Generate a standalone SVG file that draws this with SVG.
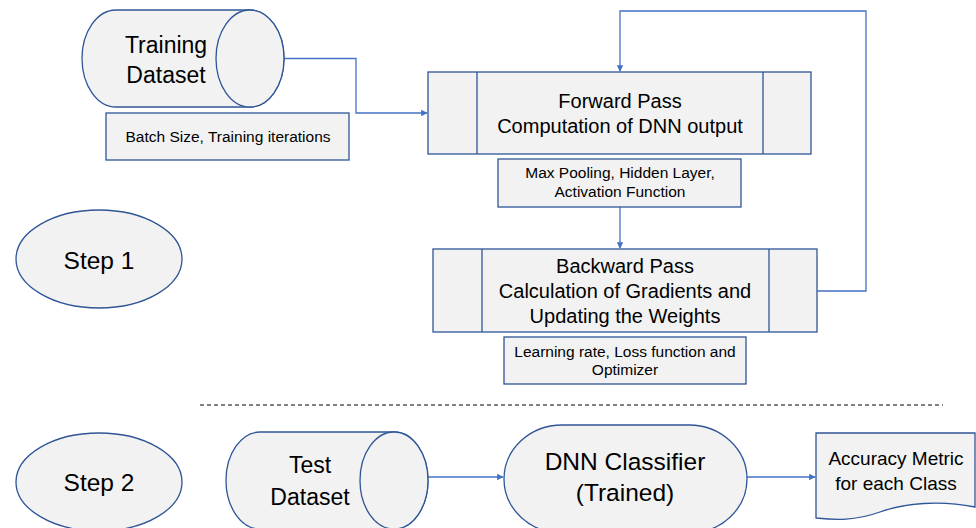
<svg xmlns="http://www.w3.org/2000/svg" width="976" height="528" viewBox="0 0 976 528">
  <defs>
    <style>
      .shape { fill: #f2f2f2; stroke: #2f5597; stroke-width: 1.3; }
      .conn { fill: none; stroke: #4472c4; stroke-width: 1.3; }
      text { font-family: "Liberation Sans", Arial, sans-serif; fill: #000; text-anchor: middle; }
      .data { font-size: 23px; }
      .big { font-size: 24.5px; }
      .mid { font-size: 20px; }
      .doc { font-size: 19px; }
      .small { font-size: 15.5px; }
    </style>
    <marker id="arrow" viewBox="0 0 10 10" refX="9" refY="5" markerWidth="5" markerHeight="5" orient="auto">
      <path d="M0,0 L10,5 L0,10 Z" fill="#4472c4"/>
    </marker>
  </defs>
  <rect width="976" height="528" fill="#ffffff"/>

  <g id="connectors">
    <polyline class="conn" points="283,58.5 356,58.5 356,113 427,113" marker-end="url(#arrow)"/>
    <line class="conn" x1="620" y1="207" x2="620" y2="248" marker-end="url(#arrow)"/>
    <polyline class="conn" points="817,291 866,291 866,11 620,11 620,71" marker-end="url(#arrow)"/>
    <line class="conn" x1="428" y1="477" x2="503" y2="477" marker-end="url(#arrow)"/>
    <line class="conn" x1="747" y1="477" x2="815" y2="477" marker-end="url(#arrow)"/>
    <line x1="200" y1="405" x2="943" y2="405" stroke="#000" stroke-width="1" stroke-dasharray="4,3"/>
  </g>

  <g id="training-dataset">
    <path class="shape" d="M116,10 L250,10 A34,48.5 0 0 1 250,107 L116,107 A34,48.5 0 0 1 116,10 Z"/>
    <ellipse class="shape" cx="250" cy="58.5" rx="34" ry="48.5"/>
    <text class="data" x="166" y="53">Training</text>
    <text class="data" x="166" y="83">Dataset</text>
  </g>

  <g id="batch-size">
    <rect class="shape" x="106" y="113" width="243" height="47"/>
    <text class="small" x="228" y="142">Batch Size, Training iterations</text>
  </g>

  <g id="forward-pass">
    <rect class="shape" x="428" y="72" width="383" height="82"/>
    <line class="shape" x1="477" y1="72" x2="477" y2="154"/>
    <line class="shape" x1="763" y1="72" x2="763" y2="154"/>
    <text class="mid" x="620" y="108">Forward Pass</text>
    <text class="mid" x="620" y="133">Computation of DNN output</text>
  </g>

  <g id="forward-params">
    <rect class="shape" x="498" y="159" width="243" height="48"/>
    <text class="small" x="620" y="178">Max Pooling, Hidden Layer,</text>
    <text class="small" x="620" y="197">Activation Function</text>
  </g>

  <g id="backward-pass">
    <rect class="shape" x="433" y="249" width="384" height="83"/>
    <line class="shape" x1="482" y1="249" x2="482" y2="332"/>
    <line class="shape" x1="769" y1="249" x2="769" y2="332"/>
    <text class="mid" x="625" y="273">Backward Pass</text>
    <text class="mid" x="625" y="298">Calculation of Gradients and</text>
    <text class="mid" x="625" y="323">Updating the Weights</text>
  </g>

  <g id="backward-params">
    <rect class="shape" x="504" y="337" width="242" height="47"/>
    <text class="small" x="625" y="357">Learning rate, Loss function and</text>
    <text class="small" x="625" y="375">Optimizer</text>
  </g>

  <g id="step-1">
    <ellipse class="shape" cx="99" cy="259" rx="83" ry="49"/>
    <text class="big" x="99" y="269">Step 1</text>
  </g>

  <g id="step-2">
    <ellipse class="shape" cx="99" cy="482" rx="83" ry="49"/>
    <text class="big" x="99" y="491">Step 2</text>
  </g>

  <g id="test-dataset">
    <path class="shape" d="M260,432 L394,432 A34,48.5 0 0 1 394,529 L260,529 A34,48.5 0 0 1 260,432 Z"/>
    <ellipse class="shape" cx="394" cy="480.5" rx="34" ry="48.5"/>
    <text class="data" x="310" y="473">Test</text>
    <text class="data" x="310" y="505">Dataset</text>
  </g>

  <g id="dnn-classifier">
    <rect class="shape" x="504" y="425" width="243" height="108" rx="58" ry="58"/>
    <text class="big" x="625" y="470">DNN Classifier</text>
    <text class="big" x="625" y="501">(Trained)</text>
  </g>

  <g id="accuracy-metric">
    <path class="shape" d="M816,433 L975,433 L975,507 C940,500 905,503 880,512 C855,521 835,520 816,518 Z"/>
    <text class="doc" x="896" y="465">Accuracy Metric</text>
    <text class="doc" x="896" y="490">for each Class</text>
  </g>
</svg>
